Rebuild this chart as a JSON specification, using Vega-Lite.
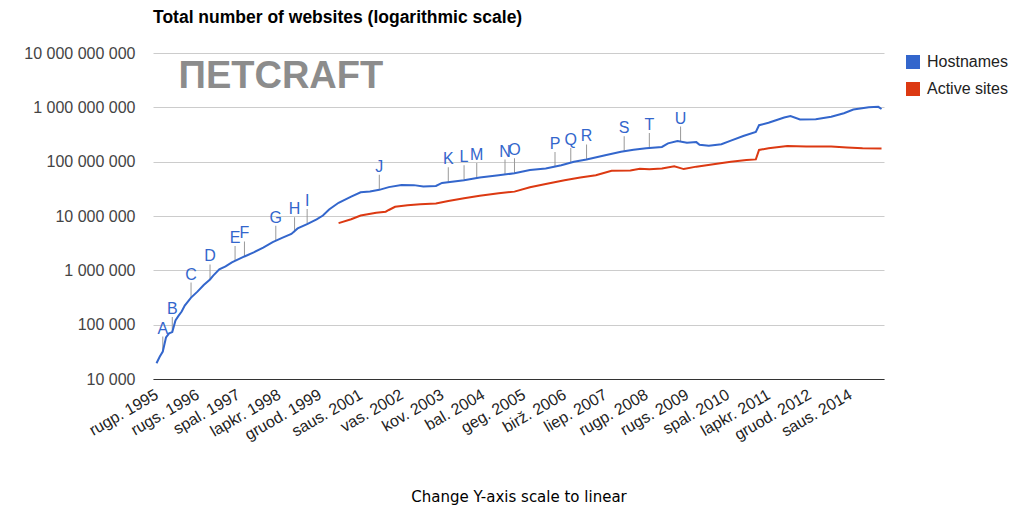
{
  "$schema": "https://vega.github.io/schema/vega-lite/v6.json",
  "width": 731,
  "height": 326,
  "autosize": {"type": "none"},
  "padding": {"left": 153, "top": 53, "right": 141, "bottom": 128},
  "background": "white",
  "title": {
    "text": "Total number of websites (logarithmic scale)",
    "anchor": "start",
    "frame": "group",
    "font": "Liberation Sans",
    "fontSize": 17.5,
    "fontWeight": "bold",
    "color": "#000000",
    "offset": 19
  },
  "config": {
    "view": {"stroke": null},
    "locale": {
      "number": {"decimal": ",", "thousands": " ", "grouping": [3], "currency": ["", " €"]},
      "time": {
        "dateTime": "%Y-%m-%d %H:%M:%S",
        "date": "%Y-%m-%d",
        "time": "%H:%M:%S",
        "periods": ["AM", "PM"],
        "days": ["sekmadienis", "pirmadienis", "antradienis", "trečiadienis", "ketvirtadienis", "penktadienis", "šeštadienis"],
        "shortDays": ["Sk", "Pr", "An", "Tr", "Kt", "Pn", "Št"],
        "months": ["sausis", "vasaris", "kovas", "balandis", "gegužė", "birželis", "liepa", "rugpjūtis", "rugsėjis", "spalis", "lapkritis", "gruodis"],
        "shortMonths": ["saus.", "vas.", "kov.", "bal.", "geg.", "birž.", "liep.", "rugp.", "rugs.", "spal.", "lapkr.", "gruod."]
      }
    }
  },
  "datasets": {
    "series": [
      {"date": "1995-08-01", "series": "Hostnames", "value": 19500},
      {"date": "1995-09-01", "series": "Hostnames", "value": 25700},
      {"date": "1995-10-01", "series": "Hostnames", "value": 32000},
      {"date": "1995-11-01", "series": "Hostnames", "value": 58000},
      {"date": "1995-12-01", "series": "Hostnames", "value": 69000},
      {"date": "1996-01-01", "series": "Hostnames", "value": 73000},
      {"date": "1996-02-01", "series": "Hostnames", "value": 120000},
      {"date": "1996-03-01", "series": "Hostnames", "value": 145000},
      {"date": "1996-04-01", "series": "Hostnames", "value": 175000},
      {"date": "1996-05-01", "series": "Hostnames", "value": 225000},
      {"date": "1996-07-01", "series": "Hostnames", "value": 315000},
      {"date": "1996-09-01", "series": "Hostnames", "value": 405000},
      {"date": "1996-11-01", "series": "Hostnames", "value": 537000},
      {"date": "1997-01-01", "series": "Hostnames", "value": 680000},
      {"date": "1997-02-01", "series": "Hostnames", "value": 800000},
      {"date": "1997-04-01", "series": "Hostnames", "value": 1040000},
      {"date": "1997-06-01", "series": "Hostnames", "value": 1180000},
      {"date": "1997-08-01", "series": "Hostnames", "value": 1400000},
      {"date": "1997-12-01", "series": "Hostnames", "value": 1800000},
      {"date": "1998-03-01", "series": "Hostnames", "value": 2140000},
      {"date": "1998-06-01", "series": "Hostnames", "value": 2630000},
      {"date": "1998-09-01", "series": "Hostnames", "value": 3300000},
      {"date": "1998-12-01", "series": "Hostnames", "value": 3950000},
      {"date": "1999-03-01", "series": "Hostnames", "value": 4670000},
      {"date": "1999-05-01", "series": "Hostnames", "value": 5900000},
      {"date": "1999-08-01", "series": "Hostnames", "value": 7100000},
      {"date": "1999-11-01", "series": "Hostnames", "value": 8700000},
      {"date": "2000-01-01", "series": "Hostnames", "value": 10200000},
      {"date": "2000-03-01", "series": "Hostnames", "value": 13200000},
      {"date": "2000-06-01", "series": "Hostnames", "value": 17500000},
      {"date": "2000-10-01", "series": "Hostnames", "value": 22800000},
      {"date": "2001-01-01", "series": "Hostnames", "value": 27400000},
      {"date": "2001-04-01", "series": "Hostnames", "value": 28300000},
      {"date": "2001-07-01", "series": "Hostnames", "value": 30300000},
      {"date": "2001-10-01", "series": "Hostnames", "value": 34000000},
      {"date": "2002-02-01", "series": "Hostnames", "value": 37100000},
      {"date": "2002-06-01", "series": "Hostnames", "value": 37000000},
      {"date": "2002-09-01", "series": "Hostnames", "value": 34900000},
      {"date": "2003-01-01", "series": "Hostnames", "value": 35700000},
      {"date": "2003-03-01", "series": "Hostnames", "value": 40600000},
      {"date": "2003-10-01", "series": "Hostnames", "value": 45700000},
      {"date": "2004-03-01", "series": "Hostnames", "value": 51300000},
      {"date": "2004-09-01", "series": "Hostnames", "value": 56100000},
      {"date": "2005-02-01", "series": "Hostnames", "value": 61100000},
      {"date": "2005-07-01", "series": "Hostnames", "value": 70000000},
      {"date": "2005-12-01", "series": "Hostnames", "value": 75000000},
      {"date": "2006-05-01", "series": "Hostnames", "value": 86000000},
      {"date": "2006-09-01", "series": "Hostnames", "value": 100000000},
      {"date": "2007-01-01", "series": "Hostnames", "value": 110000000},
      {"date": "2007-07-01", "series": "Hostnames", "value": 131000000},
      {"date": "2007-12-01", "series": "Hostnames", "value": 152000000},
      {"date": "2008-04-01", "series": "Hostnames", "value": 165000000},
      {"date": "2008-08-01", "series": "Hostnames", "value": 177000000},
      {"date": "2009-01-01", "series": "Hostnames", "value": 187000000},
      {"date": "2009-03-01", "series": "Hostnames", "value": 217000000},
      {"date": "2009-06-01", "series": "Hostnames", "value": 240000000},
      {"date": "2009-09-01", "series": "Hostnames", "value": 223000000},
      {"date": "2009-12-01", "series": "Hostnames", "value": 229000000},
      {"date": "2010-01-01", "series": "Hostnames", "value": 204000000},
      {"date": "2010-04-01", "series": "Hostnames", "value": 196000000},
      {"date": "2010-08-01", "series": "Hostnames", "value": 209000000},
      {"date": "2010-11-01", "series": "Hostnames", "value": 244000000},
      {"date": "2011-03-01", "series": "Hostnames", "value": 297000000},
      {"date": "2011-07-01", "series": "Hostnames", "value": 353000000},
      {"date": "2011-08-01", "series": "Hostnames", "value": 469000000},
      {"date": "2011-11-01", "series": "Hostnames", "value": 520000000},
      {"date": "2012-04-01", "series": "Hostnames", "value": 650000000},
      {"date": "2012-06-01", "series": "Hostnames", "value": 690000000},
      {"date": "2012-09-01", "series": "Hostnames", "value": 600000000},
      {"date": "2013-02-01", "series": "Hostnames", "value": 605000000},
      {"date": "2013-07-01", "series": "Hostnames", "value": 670000000},
      {"date": "2013-11-01", "series": "Hostnames", "value": 780000000},
      {"date": "2014-02-01", "series": "Hostnames", "value": 910000000},
      {"date": "2014-07-01", "series": "Hostnames", "value": 1000000000},
      {"date": "2014-10-01", "series": "Hostnames", "value": 1020000000},
      {"date": "2014-11-01", "series": "Hostnames", "value": 930000000},
      {"date": "2000-06-01", "series": "Active sites", "value": 7400000},
      {"date": "2000-10-01", "series": "Active sites", "value": 8700000},
      {"date": "2001-01-01", "series": "Active sites", "value": 10200000},
      {"date": "2001-06-01", "series": "Active sites", "value": 11500000},
      {"date": "2001-09-01", "series": "Active sites", "value": 12000000},
      {"date": "2001-10-01", "series": "Active sites", "value": 12900000},
      {"date": "2001-12-01", "series": "Active sites", "value": 14800000},
      {"date": "2002-04-01", "series": "Active sites", "value": 15800000},
      {"date": "2002-08-01", "series": "Active sites", "value": 16500000},
      {"date": "2003-01-01", "series": "Active sites", "value": 17000000},
      {"date": "2003-05-01", "series": "Active sites", "value": 18900000},
      {"date": "2003-10-01", "series": "Active sites", "value": 21200000},
      {"date": "2004-03-01", "series": "Active sites", "value": 23600000},
      {"date": "2004-09-01", "series": "Active sites", "value": 26100000},
      {"date": "2005-02-01", "series": "Active sites", "value": 28100000},
      {"date": "2005-07-01", "series": "Active sites", "value": 33800000},
      {"date": "2005-12-01", "series": "Active sites", "value": 38900000},
      {"date": "2006-06-01", "series": "Active sites", "value": 45700000},
      {"date": "2006-11-01", "series": "Active sites", "value": 51300000},
      {"date": "2007-04-01", "series": "Active sites", "value": 56100000},
      {"date": "2007-09-01", "series": "Active sites", "value": 68000000},
      {"date": "2008-03-01", "series": "Active sites", "value": 69000000},
      {"date": "2008-06-01", "series": "Active sites", "value": 74000000},
      {"date": "2008-09-01", "series": "Active sites", "value": 72500000},
      {"date": "2009-01-01", "series": "Active sites", "value": 75000000},
      {"date": "2009-05-01", "series": "Active sites", "value": 82000000},
      {"date": "2009-08-01", "series": "Active sites", "value": 73000000},
      {"date": "2009-12-01", "series": "Active sites", "value": 81000000},
      {"date": "2010-06-01", "series": "Active sites", "value": 91000000},
      {"date": "2010-11-01", "series": "Active sites", "value": 100000000},
      {"date": "2011-04-01", "series": "Active sites", "value": 107000000},
      {"date": "2011-07-01", "series": "Active sites", "value": 110000000},
      {"date": "2011-08-01", "series": "Active sites", "value": 164000000},
      {"date": "2011-11-01", "series": "Active sites", "value": 177000000},
      {"date": "2012-05-01", "series": "Active sites", "value": 195000000},
      {"date": "2012-11-01", "series": "Active sites", "value": 190000000},
      {"date": "2013-07-01", "series": "Active sites", "value": 190000000},
      {"date": "2013-12-01", "series": "Active sites", "value": 183000000},
      {"date": "2014-05-01", "series": "Active sites", "value": 177000000},
      {"date": "2014-11-01", "series": "Active sites", "value": 175000000}
    ],
    "annotations": [
      {"date": "1995-10-01", "letter": "A", "value": 32000},
      {"date": "1996-01-01", "letter": "B", "value": 73000},
      {"date": "1996-07-01", "letter": "C", "value": 315000},
      {"date": "1997-01-01", "letter": "D", "value": 680000},
      {"date": "1997-09-01", "letter": "E", "value": 1480000},
      {"date": "1997-12-01", "letter": "F", "value": 1800000},
      {"date": "1998-10-01", "letter": "G", "value": 3500000},
      {"date": "1999-04-01", "letter": "H", "value": 5000000},
      {"date": "1999-08-01", "letter": "I", "value": 7100000},
      {"date": "2001-07-01", "letter": "J", "value": 30300000},
      {"date": "2003-05-01", "letter": "K", "value": 42000000},
      {"date": "2003-10-01", "letter": "L", "value": 45700000},
      {"date": "2004-02-01", "letter": "M", "value": 50000000},
      {"date": "2004-11-01", "letter": "N", "value": 58000000},
      {"date": "2005-02-01", "letter": "O", "value": 61000000},
      {"date": "2006-03-01", "letter": "P", "value": 80000000},
      {"date": "2006-08-01", "letter": "Q", "value": 95000000},
      {"date": "2007-01-01", "letter": "R", "value": 110000000},
      {"date": "2008-01-01", "letter": "S", "value": 155000000},
      {"date": "2008-09-01", "letter": "T", "value": 178000000},
      {"date": "2009-07-01", "letter": "U", "value": 235000000}
    ],
    "logo": [
      {"date": "1996-03-01", "value": 2270000000, "text": "ΠETCRAFT"}
    ]
  },
  "encoding": {
    "x": {
      "field": "date",
      "type": "temporal",
      "scale": {
        "type": "utc",
        "domain": [
          {"year": 1995, "month": 6, "date": 28, "utc": true},
          {"year": 2014, "month": 11, "date": 25, "utc": true}
        ]
      },
      "axis": {
        "values": [
          {"year": 1995, "month": 8, "date": 1, "utc": true},
          {"year": 1996, "month": 9, "date": 1, "utc": true},
          {"year": 1997, "month": 10, "date": 1, "utc": true},
          {"year": 1998, "month": 11, "date": 1, "utc": true},
          {"year": 1999, "month": 12, "date": 1, "utc": true},
          {"year": 2001, "month": 1, "date": 1, "utc": true},
          {"year": 2002, "month": 2, "date": 1, "utc": true},
          {"year": 2003, "month": 3, "date": 1, "utc": true},
          {"year": 2004, "month": 4, "date": 1, "utc": true},
          {"year": 2005, "month": 5, "date": 1, "utc": true},
          {"year": 2006, "month": 6, "date": 1, "utc": true},
          {"year": 2007, "month": 7, "date": 1, "utc": true},
          {"year": 2008, "month": 8, "date": 1, "utc": true},
          {"year": 2009, "month": 9, "date": 1, "utc": true},
          {"year": 2010, "month": 10, "date": 1, "utc": true},
          {"year": 2011, "month": 11, "date": 1, "utc": true},
          {"year": 2012, "month": 12, "date": 1, "utc": true},
          {"year": 2014, "month": 1, "date": 1, "utc": true}
        ],
        "labelExpr": "utcFormat(datum.value, '%b %Y')",
        "labelAngle": -30,
        "labelAlign": "right",
        "labelBaseline": "middle",
        "labelFont": "Liberation Sans",
        "labelFontSize": 16,
        "labelColor": "#222222",
        "labelPadding": 14,
        "labelOverlap": false,
        "labelFlush": false,
        "ticks": false,
        "grid": false,
        "domain": true,
        "domainColor": "#333333",
        "domainWidth": 1,
        "title": "Change Y-axis scale to linear",
        "titleFont": "DejaVu Sans",
        "titleFontSize": 15,
        "titleFontWeight": "normal",
        "titleColor": "#000000",
        "titlePadding": 47
      }
    },
    "y": {
      "field": "value",
      "type": "quantitative",
      "scale": {"type": "log", "domain": [10000, 10000000000], "nice": false},
      "axis": {
        "values": [10000, 100000, 1000000, 10000000, 100000000, 1000000000, 10000000000],
        "format": ",d",
        "labelFont": "Liberation Sans",
        "labelFontSize": 16,
        "labelColor": "#444444",
        "labelPadding": 18,
        "ticks": false,
        "domain": false,
        "grid": true,
        "gridColor": "#cccccc",
        "gridWidth": 1,
        "title": null
      }
    }
  },
  "layer": [
    {
      "data": {"name": "logo"},
      "mark": {"type": "text", "font": "Liberation Sans", "fontSize": 38, "fontWeight": "bold", "color": "#8c8c8c", "align": "left", "baseline": "alphabetic"},
      "encoding": {"text": {"field": "text"}}
    },
    {
      "data": {"name": "annotations"},
      "mark": {"type": "tick", "orient": "vertical", "size": 15, "thickness": 1, "color": "#999999", "yOffset": -7.5, "opacity": 1}
    },
    {
      "data": {"name": "series"},
      "mark": {"type": "line", "strokeWidth": 2, "interpolate": "linear"},
      "encoding": {
        "color": {
          "field": "series",
          "type": "nominal",
          "scale": {"domain": ["Hostnames", "Active sites"], "range": ["#3366CC", "#DC3912"]},
          "legend": {
            "title": null,
            "orient": "right",
            "offset": 18,
            "padding": 1,
            "symbolType": "square",
            "symbolSize": 196,
            "labelFont": "Liberation Sans",
            "labelFontSize": 16,
            "labelColor": "#222222",
            "labelOffset": 6,
            "rowPadding": 11,
            "encode": {
              "symbols": {
                "update": {
                  "fill": {"scale": "color", "field": "value"},
                  "stroke": {"value": "transparent"},
                  "strokeWidth": {"value": 0}
                }
              }
            }
          }
        },
        "order": {"field": "date", "type": "temporal"}
      }
    },
    {
      "data": {"name": "annotations"},
      "mark": {"type": "text", "font": "Liberation Sans", "fontSize": 16, "color": "#3366CC", "align": "center", "baseline": "alphabetic", "dy": -18},
      "encoding": {"text": {"field": "letter"}}
    }
  ]
}
